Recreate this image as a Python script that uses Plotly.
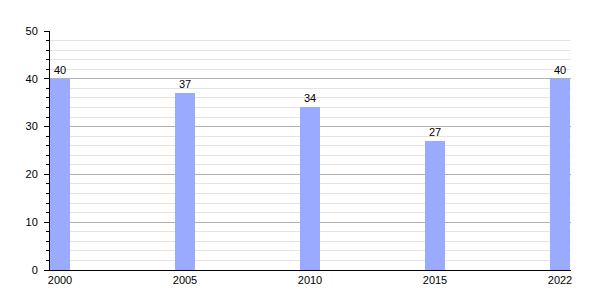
import plotly.graph_objects as go

years = ["2000", "2005", "2010", "2015", "2022"]
values = [40, 37, 34, 27, 40]

fig = go.Figure(go.Bar(
    x=years, y=values, text=[str(v) for v in values],
    textposition="outside", cliponaxis=False,
    textfont=dict(size=11, color="black", family="Liberation Sans, Arial, sans-serif"),
    marker=dict(color="#99aaff", line=dict(width=0)),
    width=0.16,
))

fig.update_layout(
    width=600, height=300,
    margin=dict(l=50, r=29, t=31, b=30),
    paper_bgcolor="white", plot_bgcolor="white",
    font=dict(family="Liberation Sans, Arial, sans-serif", size=11, color="black"),
    showlegend=False,
    bargap=0,
)
fig.update_xaxes(
    type="category", range=[-0.08, 4.088],
    showline=True, linecolor="black", linewidth=1,
    showgrid=False, ticks="", tickfont=dict(size=11, color="black"),
)
fig.update_yaxes(
    range=[0, 50], dtick=10, tick0=0,
    showline=True, linecolor="black", linewidth=1,
    ticks="outside", ticklen=5, tickcolor="black",
    ticklabelstandoff=4,
    showgrid=True, gridcolor="#b0b0b0", gridwidth=1,
    zeroline=False,
    minor=dict(dtick=2, ticks="outside", ticklen=3, tickcolor="black",
               showgrid=True, gridcolor="#e4e4e4", gridwidth=1),
    tickfont=dict(size=11, color="black"),
)

fig.write_html("out.html")
